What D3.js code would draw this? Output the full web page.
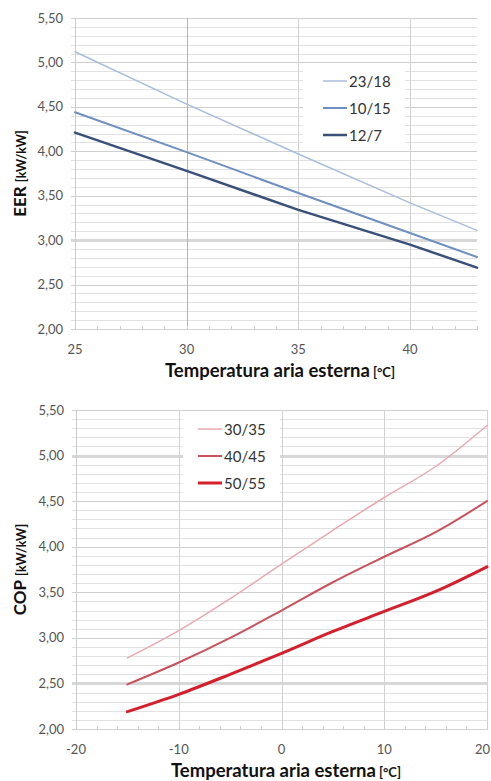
<!DOCTYPE html>
<html><head><meta charset="utf-8">
<script src="https://cdn.jsdelivr.net/npm/d3@7"></script>
<style>
html,body{margin:0;padding:0;background:#fff;}
svg{display:block;font-family:Lato,"Open Sans",sans-serif;}
</style></head>
<body>
<svg id="c" width="491" height="781"></svg>
<script>
// ---- Top chart (EER) data ----
const eerX = [25, 30, 35, 40, 43];
const eerSeriesNames = ["23/18", "10/15", "12/7"];
const eer2318 = [5.12, 4.53, 3.97, 3.42, 3.11];
const eer1015 = [4.44, 3.99, 3.53, 3.08, 2.81];
const eer127  = [4.21, 3.78, 3.34, 2.95, 2.69];
const eerXTicks = [25, 30, 35, 40];
const yTicks = [2.0, 2.5, 3.0, 3.5, 4.0, 4.5, 5.0, 5.5];

// ---- Bottom chart (COP) data ----
const copX = [-15, -10, -5, 0, 5, 10, 15, 20];
const copSeriesNames = ["30/35", "40/45", "50/55"];
const cop3035 = [2.78, 3.08, 3.43, 3.81, 4.18, 4.54, 4.88, 5.33];
const cop4045 = [2.49, 2.73, 3.00, 3.30, 3.61, 3.89, 4.16, 4.50];
const cop5055 = [2.19, 2.38, 2.60, 2.83, 3.07, 3.29, 3.51, 3.78];
const copXTicks = [-20, -10, 0, 10, 20];

const svg = d3.select("#c");
const fmt = d => d3.format(".2f")(d).replace(".", ",");

function drawChart(o) {
  const g = svg.append("g");
  const x = d3.scaleLinear().domain(o.xDomain).range([o.left, o.right]);
  const y = d3.scaleLinear().domain([2, 5.5]).range([o.bottom, o.top]);

  // minor horizontal grid every 0.1
  const minor = d3.range(20, 56).map(v => v / 10);
  const isThick = d => o.thick.some(t => Math.abs(t - d) < 1e-6);
  g.selectAll(".hm").data(minor).join("line")
    .attr("x1", o.left - 4).attr("x2", o.right)
    .attr("y1", d => Math.round(y(d)) + 0.5).attr("y2", d => Math.round(y(d)) + 0.5)
    .attr("stroke", d => isThick(d) ? "#d8d8d8" : (Math.round(d * 10) % 5 === 0) ? "#cfcfcf" : "#e2e2e2")
    .attr("stroke-width", d => isThick(d) ? 3 : 1);

  // vertical grid
  g.selectAll(".vg").data(o.vGrid).join("line")
    .attr("x1", d => Math.round(x(d)) + 0.5).attr("x2", d => Math.round(x(d)) + 0.5)
    .attr("y1", o.top).attr("y2", o.bottom)
    .attr("stroke", d => d === o.darkV ? "#b4b4b4" : "#d2d2d2").attr("stroke-width", 1);

  // axes lines
  g.append("line").attr("x1", o.left + 0.5).attr("x2", o.left + 0.5)
    .attr("y1", o.top).attr("y2", o.bottom).attr("stroke", "#cccccc");
  g.append("line").attr("x1", o.left).attr("x2", o.right)
    .attr("y1", o.bottom + 0.5).attr("y2", o.bottom + 0.5).attr("stroke", "#d4d4d4");
  // minor x ticks
  g.selectAll(".xt").data(d3.range(o.xDomain[0], o.xDomain[1] + 0.001, o.minorX)).join("line")
    .attr("x1", d => Math.round(x(d)) + 0.5).attr("x2", d => Math.round(x(d)) + 0.5)
    .attr("y1", o.bottom - 3).attr("y2", o.bottom + 1).attr("stroke", "#d0d0d0");

  // y tick labels
  g.selectAll(".yl").data(yTicks).join("text")
    .attr("x", o.left - 12).attr("y", d => y(d) + 4.5)
    .attr("text-anchor", "end").attr("font-size", 13).attr("fill", "#555")
    .text(fmt);

  // x tick labels
  const lastTick = o.xTicks[o.xTicks.length - 1];
  g.selectAll(".xl").data(o.xTicks).join("text")
    .attr("x", d => (x(d) > 480 ? 490 : x(d))).attr("y", o.bottom + 25)
    .attr("text-anchor", d => (x(d) > 480 ? "end" : "middle"))
    .attr("font-size", 13).attr("fill", "#555")
    .text(d => d);

  // x title
  const xt = g.append("text").attr("x", o.xTitleX).attr("y", o.bottom + 48)
    .attr("text-anchor", "middle").attr("font-weight", "bold").attr("fill", "#111");
  xt.append("tspan").attr("font-size", 18.5).text("Temperatura aria esterna");
  xt.append("tspan").attr("font-size", 13).attr("dx", 3).text("[°C]");

  // y title
  const cy = (o.top + o.bottom) / 2;
  const yt = g.append("text").attr("transform", `translate(${o.yTitleX},${cy}) rotate(-90)`)
    .attr("text-anchor", "middle").attr("font-weight", "bold").attr("fill", "#111");
  yt.append("tspan").attr("font-size", 17).text(o.yName);
  yt.append("tspan").attr("font-size", 12.5).attr("dx", 4).text("[kW/kW]");

  // legend background
  g.append("rect").attr("x", o.leg.x).attr("y", o.leg.y).attr("width", o.leg.w).attr("height", o.leg.h)
    .attr("fill", "#fff");

  // series
  const line = d3.line().x((d, i) => x(o.xs[i])).y(d => y(d)).curve(o.curve);
  o.series.forEach((s, i) => {
    g.append("path").attr("d", line(s.values)).attr("fill", "none")
      .attr("stroke", s.color).attr("stroke-width", s.w).attr("stroke-linecap", "round");
    const ly = o.leg.y0 + i * o.leg.dy;
    g.append("line").attr("x1", o.leg.lx).attr("x2", o.leg.lx + 24)
      .attr("y1", ly).attr("y2", ly).attr("stroke", s.color).attr("stroke-width", s.w);
    g.append("text").attr("x", o.leg.lx + 26).attr("y", ly + 5.5)
      .attr("font-size", 15).attr("fill", "#333").text(s.name);
  });
}

drawChart({
  xDomain: [25, 43], left: 75, right: 477, top: 18, bottom: 329,
  vGrid: [30, 35, 40], darkV: 30, thick: [3.0], minorX: 1,
  xTicks: eerXTicks, xs: eerX, xTitleX: 280, yTitleX: 26, yName: "EER",
  curve: d3.curveLinear,
  leg: { x: 303, y: 63, w: 102, h: 87, lx: 323, y0: 81, dy: 27 },
  series: [
    { name: eerSeriesNames[0], values: eer2318, color: "#a9bddc", w: 1.5 },
    { name: eerSeriesNames[1], values: eer1015, color: "#6f8fc0", w: 2 },
    { name: eerSeriesNames[2], values: eer127,  color: "#3b5079", w: 2.5 }
  ]
});

drawChart({
  xDomain: [-20, 20], left: 76, right: 487, top: 410, bottom: 729,
  vGrid: [-10, 0, 10, 20], darkV: null, thick: [5.0, 2.5], minorX: 2,
  xTicks: copXTicks, xs: copX, xTitleX: 286, yTitleX: 26, yName: "COP",
  curve: d3.curveMonotoneX,
  leg: { x: 183, y: 414, w: 97, h: 84, lx: 198, y0: 429, dy: 27 },
  series: [
    { name: copSeriesNames[0], values: cop3035, color: "#e9a9b0", w: 1.5 },
    { name: copSeriesNames[1], values: cop4045, color: "#c9535d", w: 2 },
    { name: copSeriesNames[2], values: cop5055, color: "#d4202c", w: 3 }
  ]
});
</script>
</body></html>
